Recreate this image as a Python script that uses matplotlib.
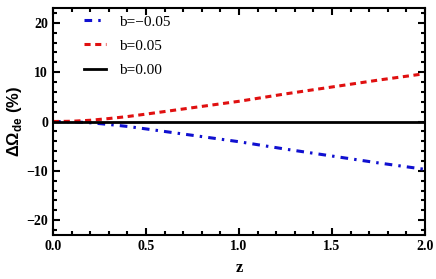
import matplotlib
matplotlib.use("Agg")
import matplotlib.pyplot as plt
from matplotlib.ticker import MultipleLocator

plt.rcParams["font.family"] = ["Liberation Serif", "DejaVu Serif"]
plt.rcParams["mathtext.fontset"] = "custom"
plt.rcParams["mathtext.rm"] = "Liberation Sans:bold"
plt.rcParams["mathtext.bf"] = "Liberation Sans:bold"

# data
z = [0.0, 0.1, 0.2, 0.3, 0.4, 0.5, 0.75, 1.0, 1.25, 1.5, 1.75, 2.0]
d_pos = [0.0, 0.05, 0.25, 0.6, 1.0, 1.5, 2.8, 4.1, 5.6, 7.0, 8.4, 9.7]
d_neg = [-v for v in d_pos]
d_zero = [0.0] * len(z)

fig = plt.figure(figsize=(4.36, 2.79), dpi=100)
ax = fig.add_axes([0.1216, 0.158, 0.853, 0.813])

ax.plot(z, d_neg, color="#1010d0", lw=2.2, linestyle=(0, (2.5, 2, 0.8, 2)), label="b=\u22120.05")
ax.plot(z, d_pos, color="#e01010", lw=2.2, linestyle=(0, (2, 1.5)), label="b=0.05")
ax.plot(z, d_zero, color="black", lw=2, label="b=0.00")

ax.set_xlim(0, 2)
ax.set_ylim(-23, 23)
ax.xaxis.set_major_locator(MultipleLocator(0.5))
ax.xaxis.set_minor_locator(MultipleLocator(0.1))
ax.yaxis.set_major_locator(MultipleLocator(10))
ax.yaxis.set_minor_locator(MultipleLocator(2))
ax.tick_params(which="both", direction="in", top=True, right=True, width=1.5)
ax.tick_params(which="major", length=5, labelsize=10)
ax.tick_params(which="minor", length=3)
for lbl in ax.get_xticklabels() + ax.get_yticklabels():
    lbl.set_fontweight("bold")
for s in ax.spines.values():
    s.set_linewidth(1.5)

ax.set_xlabel("z", fontsize=12, fontweight="bold", labelpad=5)
ax.set_ylabel(r"$\Delta\Omega_{\rm de}$ (%)", fontsize=12, fontweight="bold",
              family="Liberation Sans", labelpad=2)

ax.legend(loc="upper left", frameon=False, fontsize=11, handlelength=1.5,
          handletextpad=0.8, bbox_to_anchor=(0.045, 1.03), labelspacing=0.68)

fig.savefig("out.png", dpi=100)
